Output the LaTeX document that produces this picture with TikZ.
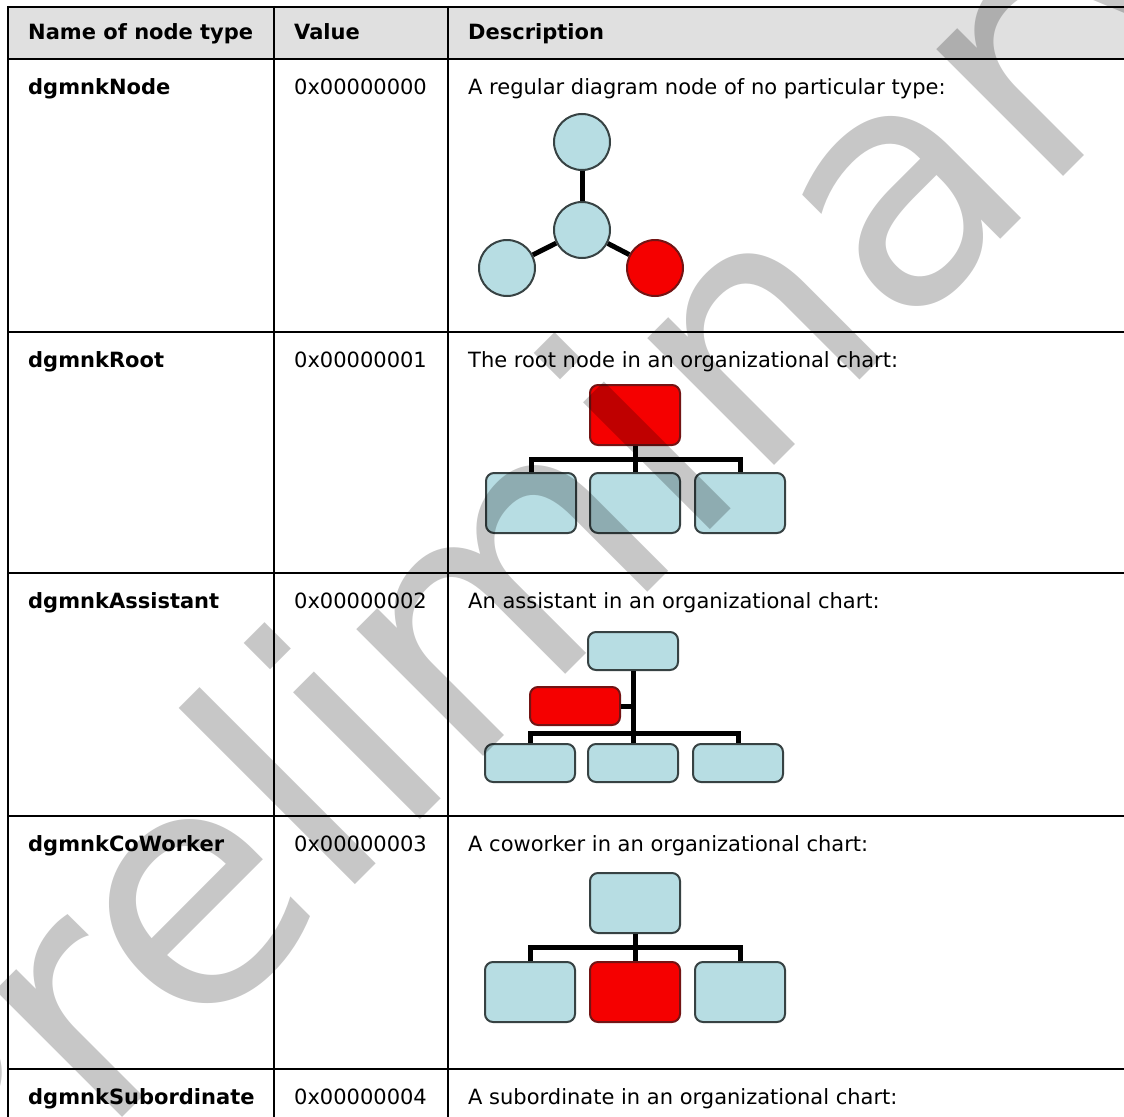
\documentclass[tikz,border=0pt]{standalone}
\usepackage{fontspec}
\setmainfont{DejaVu Sans}

\definecolor{nodeblue}{RGB}{183,221,227}
\definecolor{nodered}{RGB}{245,0,0}
\definecolor{nodeedge}{RGB}{55,66,67}
\definecolor{rededge}{RGB}{115,20,20}
\definecolor{headgray}{RGB}{224,224,224}

\tikzset{
  cell/.style={anchor=base west, inner sep=0pt, font=\fontsize{21}{25}\selectfont},
  namecell/.style={cell, font=\fontsize{21}{25}\selectfont\bfseries},
  bluebox/.style={draw=nodeedge, fill=nodeblue, line width=2pt, rounded corners=8pt,
    minimum width=90pt, minimum height=60pt, inner sep=0pt},
  redbox/.style={bluebox, draw=rededge, fill=nodered},
  flatbox/.style={minimum height=38pt},
  bluedot/.style={circle, draw=nodeedge, fill=nodeblue, line width=2pt,
    minimum size=56pt, inner sep=0pt},
  reddot/.style={bluedot, draw=rededge, fill=nodered},
  link/.style={line width=5pt, black},
  rule/.style={line width=2pt, black},
  stamp/.style={font=\fontsize{328}{328}\selectfont, rotate=45, anchor=base,
    inner sep=0pt, text=black, text opacity=0.22}
}

\begin{document}
\begin{tikzpicture}[x=1pt,y=-1pt]
\useasboundingbox (0,0) rectangle (1124,1116);
\clip (0,0) rectangle (1124,1116);
\fill[headgray] (8,7) rectangle (1130,59);
\draw[rule] (8,7) -- (1130,7);
\draw[rule] (8,59) -- (1130,59);
\draw[rule] (8,332) -- (1130,332);
\draw[rule] (8,573) -- (1130,573);
\draw[rule] (8,816) -- (1130,816);
\draw[rule] (8,1069) -- (1130,1069);
\draw[rule] (8,6) -- (8,1120);
\draw[rule] (274,6) -- (274,1120);
\draw[rule] (448,6) -- (448,1120);

\node[namecell] (hname) at (28,40) {Name of node type};
\node[namecell] (hvalue) at (294,40) {Value};
\node[namecell] (hdesc) at (468,40) {Description};

\node[namecell] (nnode) at (28,94) {dgmnkNode};
\node[cell] (vnode) at (294,94) {0x00000000};
\node[cell] (dnode) at (468,94) {A regular diagram node of no particular type:};

\node[namecell] (nroot) at (28,367) {dgmnkRoot};
\node[cell] (vroot) at (294,367) {0x00000001};
\node[cell] (droot) at (468,367) {The root node in an organizational chart:};

\node[namecell] (nasst) at (28,608) {dgmnkAssistant};
\node[cell] (vasst) at (294,608) {0x00000002};
\node[cell] (dasst) at (468,608) {An assistant in an organizational chart:};

\node[namecell] (ncowk) at (28,851) {dgmnkCoWorker};
\node[cell] (vcowk) at (294,851) {0x00000003};
\node[cell] (dcowk) at (468,851) {A coworker in an organizational chart:};

\node[namecell] (nsubd) at (28,1104) {dgmnkSubordinate};
\node[cell] (vsubd) at (294,1104) {0x00000004};
\node[cell] (dsubd) at (468,1104) {A subordinate in an organizational chart:};

% plain node
\node[bluedot] (ntop) at (582,142) {};
\node[bluedot] (nmid) at (582,230) {};
\node[bluedot] (nleft) at (507,268) {};
\node[reddot] (nred) at (655,268) {};
\draw[link] (ntop) -- (nmid);
\draw[link] (nmid) -- (nleft);
\draw[link] (nmid) -- (nred);

% root
\node[redbox] (rtop) at (635,415) {};
\node[bluebox] (rkid1) at (531,503) {};
\node[bluebox] (rkid2) at (635,503) {};
\node[bluebox] (rkid3) at (740,503) {};
\draw[link] (rtop) -- (rkid2);
\draw[link] (rkid1.north) -- ++(0,-13) -| (rkid3.north);

% assistant
\node[bluebox, flatbox] (atop) at (633,651) {};
\node[redbox, flatbox] (ahelp) at (575,706) {};
\node[bluebox, flatbox] (akid1) at (530,763) {};
\node[bluebox, flatbox] (akid2) at (633,763) {};
\node[bluebox, flatbox] (akid3) at (738,763) {};
\draw[link] (atop) -- (akid2);
\draw[link] (ahelp.east) -- (ahelp.east -| atop.south);
\draw[link] (akid1.north) -- ++(0,-10) -| (akid3.north);

% coworker
\node[bluebox] (ctop) at (635,903) {};
\node[bluebox] (ckid1) at (530,992) {};
\node[redbox] (ckid2) at (635,992) {};
\node[bluebox] (ckid3) at (740,992) {};
\draw[link] (ctop) -- (ckid2);
\draw[link] (ckid1.north) -- ++(0,-14) -| (ckid3.north);

\node[stamp] (mark) at (620,620) {Preliminary};
\end{tikzpicture}
\end{document}
